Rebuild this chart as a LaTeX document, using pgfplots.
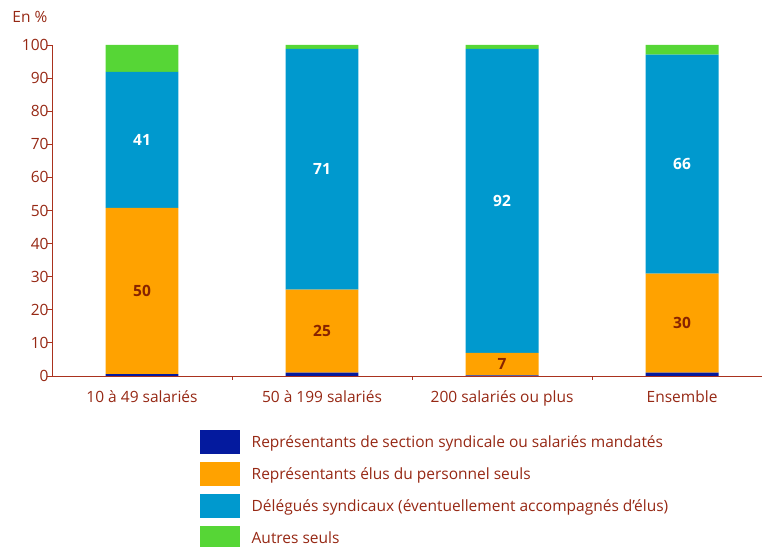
\documentclass[border=0pt]{standalone}
\usepackage{pgfplots}
\pgfplotsset{compat=1.18}
\usepackage{fontspec}
\setmainfont{Open Sans}
\definecolor{cDark}{RGB}{4,26,158}
\definecolor{cOrange}{RGB}{255,162,0}
\definecolor{cBlue}{RGB}{0,153,206}
\definecolor{cGreen}{RGB}{86,214,54}
\definecolor{cText}{RGB}{150,40,20}
\definecolor{cAxis}{RGB}{170,50,30}
\definecolor{cLab}{RGB}{135,35,0}
\newcommand{\tfont}{\fontsize{15.5bp}{18bp}\selectfont}
\begin{document}
\begin{tikzpicture}[x=1bp,y=1bp]
\begin{axis}[
  scale only axis, width=710bp, height=331bp,
  ybar stacked, bar width=0.405,
  xmin=-0.5, xmax=3.444, ymin=0, ymax=100,
  axis x line*=bottom, axis y line*=left,
  axis line style={cAxis, line width=0.8bp},
  xtick={0,1,2,3},
  xticklabels={10 à 49 salariés, 50 à 199 salariés, 200 salariés ou plus, Ensemble},
  minor xtick={0.5,1.5,2.5},
  ytick={0,10,...,100},
  tick align=outside, major tick length=5bp, minor tick length=4bp,
  every major x tick/.append style={draw=none},
  tick style={cAxis, line width=0.8bp},
  /pgf/number format/assume math mode=true,
  ticklabel style={font=\tfont, text=cText},
  xticklabel style={yshift=-6bp},
  yticklabel style={xshift=5bp},
  legend style={draw=none, fill=none, at={(axis description cs:0.2035,-0.157)}, anchor=north west,
    font=\tfont, text=cText, row sep=8bp, column sep=12bp,
    nodes={inner sep=0pt}},
  legend cell align=left,
  legend image code/.code={\fill[#1] (0bp,-12bp) rectangle (40bp,12bp);},
  clip=false,
]
\addlegendimage{fill=cDark, draw=none}
\addlegendentry{Représentants de section syndicale ou salariés mandatés}
\addlegendimage{fill=cOrange, draw=none}
\addlegendentry{Représentants élus du personnel seuls}
\addlegendimage{fill=cBlue, draw=none}
\addlegendentry{Délégués syndicaux (éventuellement accompagnés d'élus)}
\addlegendimage{fill=cGreen, draw=none}
\addlegendentry{Autres seuls}

\addplot[fill=cDark, draw=none, forget plot] coordinates {(0,0.6) (1,1.0) (2,0.2) (3,1.0)};
\addplot[fill=cOrange, draw=none, forget plot, nodes near coords, point meta=explicit symbolic,
  every node near coord/.append style={anchor=center, font=\tfont\bfseries, text=cLab}]
  coordinates {(0,50.2) [50] (1,25.1) [25] (2,6.8) [7] (3,29.9) [30]};
\addplot[fill=cBlue, draw=none, forget plot, nodes near coords, point meta=explicit symbolic,
  every node near coord/.append style={anchor=center, font=\tfont\bfseries, text=white}]
  coordinates {(0,41.1) [41] (1,72.7) [71] (2,91.8) [92] (3,66.2) [66]};
\addplot[fill=cGreen, draw=none, forget plot] coordinates {(0,8.1) (1,1.2) (2,1.2) (3,2.9)};

\node[anchor=west, font=\tfont, text=cText, inner sep=0pt] at (axis description cs:-0.056,1.085) {En \%};
\end{axis}
\pgfresetboundingbox
\path (-52,-171) rectangle (712,376);
\end{tikzpicture}
\end{document}
